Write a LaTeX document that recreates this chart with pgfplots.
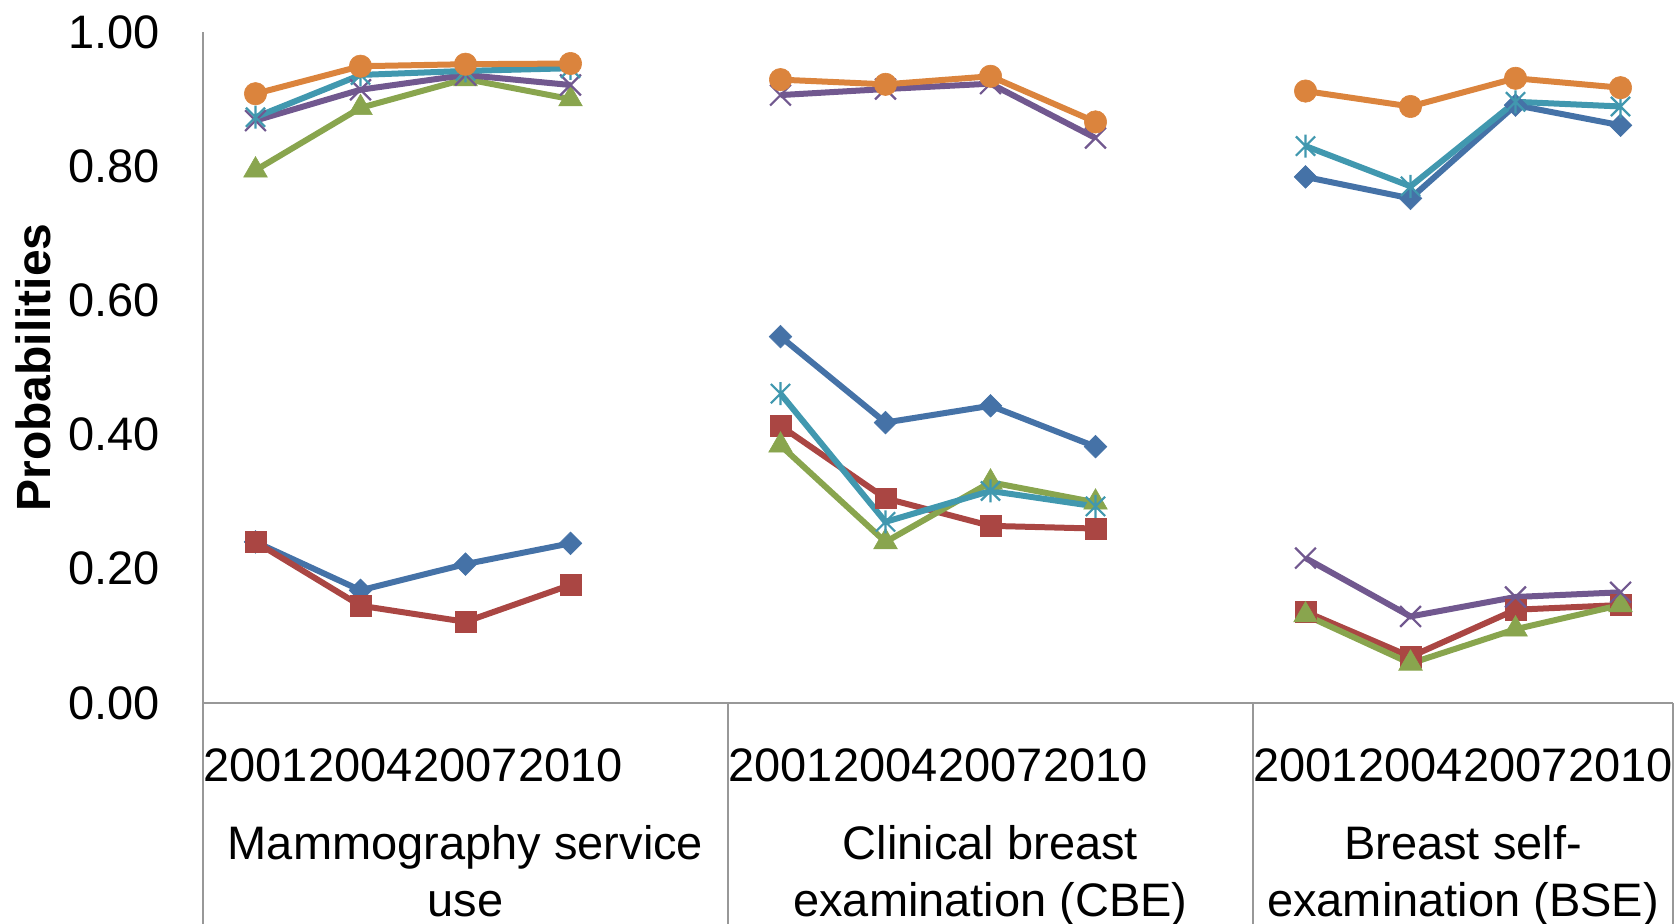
\documentclass[border=0pt]{standalone}
\usepackage{fontspec}
\setmainfont{Liberation Sans}
\usepackage{pgfplots}
\pgfplotsset{compat=1.18}
\definecolor{sBlue}{HTML}{4572A7}
\definecolor{sRed}{HTML}{AA4643}
\definecolor{sGreen}{HTML}{89A54E}
\definecolor{sPurple}{HTML}{71588F}
\definecolor{sTeal}{HTML}{4198AF}
\definecolor{sOrange}{HTML}{DB843D}
\definecolor{axisgray}{HTML}{989898}
\pgfdeclareplotmark{xcross}{%
  \pgfpathmoveto{\pgfqpoint{-\pgfplotmarksize}{-\pgfplotmarksize}}%
  \pgfpathlineto{\pgfqpoint{\pgfplotmarksize}{\pgfplotmarksize}}%
  \pgfpathmoveto{\pgfqpoint{-\pgfplotmarksize}{\pgfplotmarksize}}%
  \pgfpathlineto{\pgfqpoint{\pgfplotmarksize}{-\pgfplotmarksize}}%
  \pgfusepathqstroke}
\pgfdeclareplotmark{xstar}{%
  \pgfpathmoveto{\pgfqpoint{-\pgfplotmarksize}{-\pgfplotmarksize}}%
  \pgfpathlineto{\pgfqpoint{\pgfplotmarksize}{\pgfplotmarksize}}%
  \pgfpathmoveto{\pgfqpoint{-\pgfplotmarksize}{\pgfplotmarksize}}%
  \pgfpathlineto{\pgfqpoint{\pgfplotmarksize}{-\pgfplotmarksize}}%
  \pgfpathmoveto{\pgfqpoint{0pt}{-1.2\pgfplotmarksize}}%
  \pgfpathlineto{\pgfqpoint{0pt}{1.2\pgfplotmarksize}}%
  \pgfusepathqstroke}
\begin{document}
\begin{tikzpicture}
\begin{axis}[
  at={(101.5pt,110pt)}, anchor=south west,
  scale only axis, width=735pt, height=335.5pt,
  xmin=0, xmax=14, ymin=0, ymax=1,
  axis x line*=bottom, axis y line*=left,
  axis line style={draw=axisgray, line width=1pt, -},
  major tick length=0pt,
  clip=false,
  unbounded coords=jump,
  /pgf/number format/assume math mode=true,
  ytick={0,0.2,0.4,0.6,0.8,1},
  yticklabel style={/pgf/number format/fixed, /pgf/number format/fixed zerofill, /pgf/number format/precision=2,
    anchor=east, inner sep=0pt, xshift=-21.5pt},
  every tick label/.append style={font=\fontsize{23.5}{25}\selectfont, text=black},
  xtick={0.5,1.5,2.5,3.5,5.5,6.5,7.5,8.5,10.5,11.5,12.5,13.5},
  xticklabels={2001,2004,2007,2010,2001,2004,2007,2010,2001,2004,2007,2010},
  xticklabel style={anchor=base, inner sep=0pt, yshift=-39pt},
  extra x ticks={2.5,7.5,12},
  extra x tick labels={{Mammography service\\use},{Clinical breast\\examination (CBE)},{Breast self-\\examination (BSE)}},
  extra x tick style={xticklabel style={align=center, yshift=-67.5pt, font=\fontsize{23.5}{28.5}\selectfont}},
  ylabel={Probabilities},
  ylabel style={at={(axis description cs:-0.1156,0.5)}, anchor=center, font=\fontsize{24}{28}\selectfont\bfseries},
  every axis plot/.append style={line width=3pt},
]
\draw[axisgray, line width=1pt] (axis cs:0,0) -- ++(0,-115pt);
\draw[axisgray, line width=1pt] (axis cs:5,0) -- ++(0,-115pt);
\draw[axisgray, line width=1pt] (axis cs:10,0) -- ++(0,-115pt);
\draw[axisgray, line width=1pt] (axis cs:14,0) -- ++(0,-115pt);
% Series 1: blue diamonds
\addplot[sBlue, mark=square*, mark size=4pt, mark options={solid, rotate=45, line width=0.3pt, fill=sBlue}]
 coordinates {(0.5,0.240)(1.5,0.168)(2.5,0.207)(3.5,0.238)(4.5,nan)(5.5,0.546)(6.5,0.418)(7.5,0.443)(8.5,0.382)(9.5,nan)(10.5,0.784)(11.5,0.752)(12.5,0.891)(13.5,0.861)};
% Series 2: red squares
\addplot[sRed, mark=square*, mark size=5.2pt, mark options={solid, line width=0.3pt, fill=sRed}]
 coordinates {(0.5,0.240)(1.5,0.145)(2.5,0.121)(3.5,0.176)(4.5,nan)(5.5,0.413)(6.5,0.305)(7.5,0.264)(8.5,0.260)(9.5,nan)(10.5,0.136)(11.5,0.069)(12.5,0.139)(13.5,0.146)};
% Series 3: green triangles
\addplot[sGreen, mark=triangle*, mark size=6.8pt, mark options={solid, line width=0.3pt, fill=sGreen}]
 coordinates {(0.5,0.794)(1.5,0.887)(2.5,0.930)(3.5,0.900)(4.5,nan)(5.5,0.384)(6.5,0.240)(7.5,0.329)(8.5,0.299)(9.5,nan)(10.5,0.131)(11.5,0.059)(12.5,0.110)(13.5,0.146)};
% Series 4: purple x
\addplot[sPurple, mark=xcross, mark size=5.2pt, mark options={solid, line width=1.1pt}]
 coordinates {(0.5,0.868)(1.5,0.914)(2.5,0.936)(3.5,0.921)(4.5,nan)(5.5,0.906)(6.5,0.915)(7.5,0.923)(8.5,0.842)(9.5,nan)(10.5,0.216)(11.5,0.129)(12.5,0.158)(13.5,0.165)};
% Series 5: teal stars
\addplot[sTeal, mark=xstar, mark size=4.8pt, mark options={solid, line width=1.1pt}]
 coordinates {(0.5,0.873)(1.5,0.936)(2.5,0.942)(3.5,0.946)(4.5,nan)(5.5,0.461)(6.5,0.270)(7.5,0.316)(8.5,0.293)(9.5,nan)(10.5,0.830)(11.5,0.770)(12.5,0.896)(13.5,0.889)};
% Series 6: orange circles
\addplot[sOrange, mark=*, mark size=5.6pt, mark options={solid, line width=0.3pt, fill=sOrange}]
 coordinates {(0.5,0.908)(1.5,0.949)(2.5,0.952)(3.5,0.953)(4.5,nan)(5.5,0.929)(6.5,0.922)(7.5,0.934)(8.5,0.866)(9.5,nan)(10.5,0.912)(11.5,0.889)(12.5,0.931)(13.5,0.917)};
\end{axis}
\pgfresetboundingbox
\useasboundingbox (0,0) rectangle (839.5pt,461.5pt);
\end{tikzpicture}
\end{document}
